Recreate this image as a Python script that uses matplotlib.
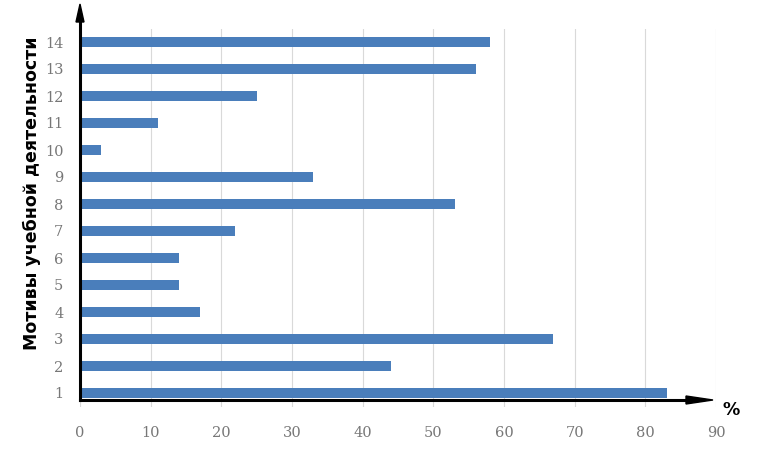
import matplotlib.pyplot as plt

# motives 1..14 and share of students, %
motives = list(range(1, 15))
percent = [83, 44, 67, 17, 14, 14, 22, 53, 33, 3, 11, 25, 56, 58]
x_ticks = [0, 10, 20, 30, 40, 50, 60, 70, 80, 90]

fig = plt.figure(figsize=(7.69, 4.59), dpi=100)
W, H = 769, 459
ax = fig.add_axes([80 / W, 1 - 406.5 / H, (716 - 80) / W, (406.5 - 28.5) / H])

ax.barh(motives, percent, height=0.38, color='#4a7ebb', zorder=3)

ax.set_xlim(0, 90)
ax.set_ylim(0.5, 14.5)
ax.set_xticks(x_ticks)
ax.set_yticks(motives)
ax.grid(axis='x', color='#d9d9d9', linewidth=0.8, zorder=0)
for s in ax.spines.values():
    s.set_visible(False)
ax.tick_params(length=0, labelsize=10.5, labelcolor='#777777')
ax.tick_params(axis='y', pad=12)
ax.tick_params(axis='x', pad=14)
for lab in ax.get_xticklabels() + ax.get_yticklabels():
    lab.set_family('DejaVu Serif')

# axis arrows drawn by hand like in the original
ax0 = 80 / W
ay0 = 1 - 400 / H
fig.add_artist(plt.Line2D([ax0, ax0], [ay0, 1 - 20 / H], transform=fig.transFigure,
                          color='black', linewidth=2.2))
fig.add_artist(plt.Line2D([ax0, 690 / W], [ay0, ay0], transform=fig.transFigure,
                          color='black', linewidth=2.2))
fig.patches.append(plt.Polygon([[ax0 - 4 / W, 1 - 22 / H], [ax0 + 4 / W, 1 - 22 / H], [ax0, 1 - 4 / H]],
                               closed=True, transform=fig.transFigure, color='black'))
fig.patches.append(plt.Polygon([[686 / W, ay0 + 4 / H], [686 / W, ay0 - 4 / H], [713 / W, ay0]],
                               closed=True, transform=fig.transFigure, color='black'))

fig.text(731 / W, 1 - 410 / H, '%', fontsize=12.5, fontweight='bold', ha='center', va='center')
fig.text(32 / W, 1 - 193 / H, 'Мотивы учебной деятельности', rotation=90,
         fontsize=12.5, fontweight='bold', ha='center', va='center', family='DejaVu Sans')

fig.savefig('out.png', dpi=100)
